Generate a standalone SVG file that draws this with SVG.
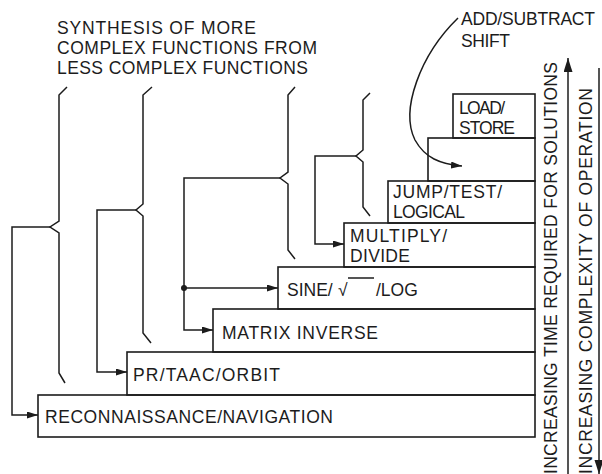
<svg xmlns="http://www.w3.org/2000/svg" width="602" height="474" viewBox="0 0 602 474">
<style>
.t{font-family:"Liberation Sans",Arial,sans-serif;font-size:17.5px;fill:#1c1c1c}
.b{fill:none;stroke:#1c1c1c;stroke-width:1.6}
.c{fill:none;stroke:#1c1c1c;stroke-width:1.5}
</style>
<defs>
<marker id="ah" markerUnits="userSpaceOnUse" markerWidth="12" markerHeight="8" refX="11" refY="3.5" orient="auto">
<path d="M0,0 L11,3.5 L0,7 z" fill="#1c1c1c"/>
</marker>
<marker id="ahb" markerUnits="userSpaceOnUse" markerWidth="15" markerHeight="10" refX="14" refY="4.5" orient="auto">
<path d="M0,0 L14,4.5 L0,9 z" fill="#1c1c1c"/>
</marker>
</defs>
<rect width="602" height="474" fill="#ffffff"/>

<g id="title">
<text class="t" x="57" y="34" textLength="199">SYNTHESIS OF MORE</text>
<text class="t" x="57" y="54" textLength="260">COMPLEX FUNCTIONS FROM</text>
<text class="t" x="57" y="74" textLength="251">LESS COMPLEX FUNCTIONS</text>
</g>

<g id="braces">
<path class="c" d="M67,87 L59,95 L59,221 L50,227 L59,233 L59,373 L65,383"/>
<path class="c" d="M152,87 L143,95 L143,204 L136,210 L143,216 L143,333 L151,343"/>
<path class="c" d="M295,87 L288,95 L288,172 L280,178 L288,184 L288,250 L295,259"/>
<path class="c" d="M370,93 L363,100 L363,150 L356,156 L363,162 L363,207 L370,216"/>
</g>

<g id="load-store">
<rect class="b" x="453" y="94" width="82" height="44"/>
<text class="t" x="459" y="114" textLength="46">LOAD/</text>
<text class="t" x="459" y="134" textLength="56">STORE</text>
</g>
<g id="add-subtract">
<rect class="b" x="428" y="138" width="107" height="43"/>
<text class="t" x="461" y="25" textLength="134">ADD/SUBTRACT</text>
<text class="t" x="461" y="47" textLength="49">SHIFT</text>
</g>
<g id="jump-test">
<rect class="b" x="388" y="181" width="147" height="42"/>
<text class="t" x="393" y="198" textLength="109">JUMP/TEST/</text>
<text class="t" x="393" y="218" textLength="72">LOGICAL</text>
</g>
<g id="multiply-divide">
<rect class="b" x="344" y="223" width="191" height="44"/>
<text class="t" x="350" y="242" textLength="97">MULTIPLY/</text>
<text class="t" x="350" y="262" textLength="60">DIVIDE</text>
</g>
<g id="sine-sqrt-log">
<rect class="b" x="278" y="267" width="257" height="42"/>
<text class="t" x="287" y="296">SINE/<tspan x="338">√</tspan><tspan x="376">/LOG</tspan></text>
<line class="c" x1="348" y1="278" x2="374" y2="278"/>
</g>
<g id="matrix-inverse">
<rect class="b" x="213" y="309" width="322" height="43"/>
<text class="t" x="222" y="339" textLength="156">MATRIX INVERSE</text>
</g>
<g id="pr-taac-orbit">
<rect class="b" x="127" y="352" width="408" height="43"/>
<text class="t" x="133" y="381" textLength="147">PR/TAAC/ORBIT</text>
</g>
<g id="recon-nav">
<rect class="b" x="38" y="395" width="497" height="42"/>
<text class="t" x="45" y="423" textLength="288">RECONNAISSANCE/NAVIGATION</text>
</g>

<g id="connectors">
<path class="c" d="M50,227 L12,227 L12,415 L38,415" marker-end="url(#ah)"/>
<path class="c" d="M136,210 L97,210 L97,372 L127,372" marker-end="url(#ah)"/>
<path class="c" d="M280,178 L184,178 L184,330 L213,330" marker-end="url(#ah)"/>
<path class="c" d="M184,288 L278,288" marker-end="url(#ah)"/>
<circle cx="184" cy="288" r="3" fill="#1c1c1c"/>
<path class="c" d="M356,156 L315,156 L315,244 L344,244" marker-end="url(#ah)"/>
<path class="c" d="M458,18 C420,55 400,110 415,140 C425,158 440,164 462,166" marker-end="url(#ah)"/>
<path class="c" d="M568,474 L568,58" marker-end="url(#ahb)"/>
<path class="c" d="M599,68 L599,474" marker-end="url(#ahb)"/>
</g>

<g id="axis-labels">
<text class="t" transform="translate(557,474) rotate(-90)" textLength="412">INCREASING TIME REQUIRED FOR SOLUTIONS</text>
<text class="t" transform="translate(592,474) rotate(-90)" textLength="386">INCREASING COMPLEXITY OF OPERATION</text>
</g>
</svg>
